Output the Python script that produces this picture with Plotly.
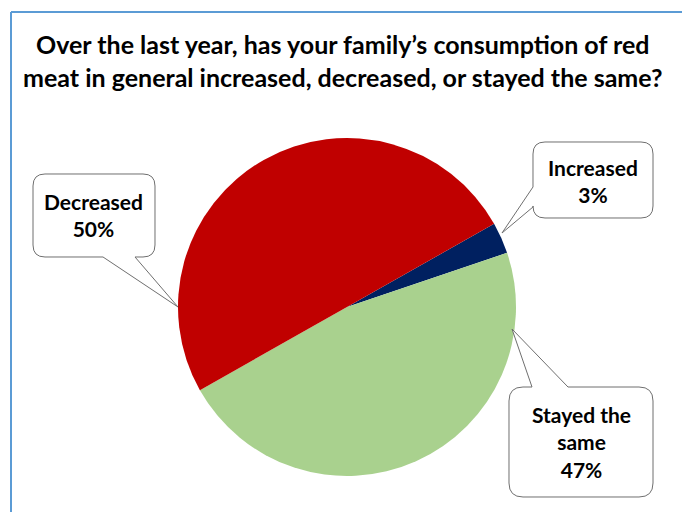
import plotly.graph_objects as go

# Data
categories = ["Increased", "Stayed the same", "Decreased"]
values = [3, 47, 50]
colors = ["#002060", "#A9D18E", "#C00000"]
label_lines = [["Increased"], ["Stayed the", "same"], ["Decreased"]]
title_lines = ["Over the last year, has your family\u2019s consumption of red",
               "meat in general increased, decreased, or stayed the same?"]

W, H = 682, 512
FONT = "Lato, 'Open Sans', Arial, sans-serif"


def px(x):
    return x / W


def py(y):
    return 1 - y / H


fig = go.Figure(go.Pie(
    labels=categories,
    values=values,
    marker=dict(colors=colors, line=dict(width=0)),
    sort=False,
    direction="clockwise",
    rotation=60.5,
    textinfo="none",
    hoverinfo="label+percent",
    showlegend=False,
    domain=dict(x=[px(178), px(516)], y=[py(476), py(138)]),
))


def callout(x0, y0, x1, y1, r, tail, side):
    """Rounded rectangle with a pointer tail; tail=(a, b, tipx, tipy)."""
    a, b, tx, ty = tail
    P = lambda x, y: f"{px(x):.5f},{py(y):.5f}"
    d = f"M{P(x0 + r, y0)}"
    if side == "top":
        d += f" L{P(a, y0)} L{P(tx, ty)} L{P(b, y0)}"
    d += f" L{P(x1 - r, y0)} Q{P(x1, y0)} {P(x1, y0 + r)}"
    d += f" L{P(x1, y1 - r)} Q{P(x1, y1)} {P(x1 - r, y1)}"
    if side == "bottom":
        d += f" L{P(b, y1)} L{P(tx, ty)} L{P(a, y1)}"
    d += f" L{P(x0 + r, y1)} Q{P(x0, y1)} {P(x0, y1 - r)}"
    if side == "left":
        d += f" L{P(x0, b)} L{P(tx, ty)} L{P(x0, a)}"
    d += f" L{P(x0, y0 + r)} Q{P(x0, y0)} {P(x0 + r, y0)} Z"
    return dict(type="path", xref="paper", yref="paper", path=d,
                fillcolor="white", line=dict(color="#6F6F6F", width=1), layer="above")


shapes = [
    # frame
    dict(type="line", xref="paper", yref="paper", x0=px(11), x1=1.0, y0=py(12), y1=py(12),
         line=dict(color="#5B9BD5", width=2)),
    dict(type="line", xref="paper", yref="paper", x0=px(11), x1=px(11), y0=py(12), y1=0,
         line=dict(color="#5B9BD5", width=2)),
    callout(33, 174, 155, 257, 12, (103, 135, 178, 307), "bottom"),
    callout(533, 142, 653, 218, 12, (187, 207, 502, 233), "left"),
    callout(509, 387, 653, 497, 14, (532, 568, 512, 329), "top"),
]

pcts = [f"{v}%" for v in values]
texts = ["<br>".join(label_lines[i] + [pcts[i]]) for i in range(len(categories))]
label_pos = [(593, 181), (581, 442), (94, 215)]

annotations = [dict(text="<b>" + "<br>".join(title_lines) + "</b>", x=px(343), y=py(60),
                    xref="paper", yref="paper", showarrow=False,
                    font=dict(family=FONT, size=25, color="black"),
                    xanchor="center", yanchor="middle")]
for t, (x, y) in zip(texts, label_pos):
    annotations.append(dict(text=f"<b>{t}</b>", x=px(x), y=py(y), xref="paper", yref="paper",
                            showarrow=False, font=dict(family=FONT, size=21, color="black"),
                            xanchor="center", yanchor="middle", align="center"))

fig.update_layout(
    width=W, height=H,
    margin=dict(l=0, r=0, t=0, b=0),
    paper_bgcolor="white", plot_bgcolor="white",
    shapes=shapes, annotations=annotations,
)

fig.write_html("out.html", config={"displayModeBar": False},
               post_script="document.body.style.margin='0';document.body.style.overflow='hidden';")
